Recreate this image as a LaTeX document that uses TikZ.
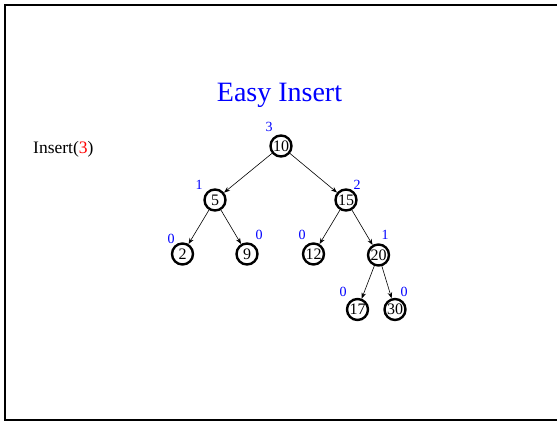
\documentclass[tikz,border=0pt]{standalone}
\usepackage{fontspec}
\setmainfont{Liberation Serif}
\usetikzlibrary{arrows.meta}
\begin{document}
\begin{tikzpicture}[x=1pt,y=-1pt,
  tn/.style={circle,draw=black,line width=2.4pt,minimum size=21pt,inner sep=0pt,font=\fontsize{16}{16}\selectfont},
  bal/.style={text=blue,font=\fontsize{14}{14}\selectfont,inner sep=0pt},
  edge/.style={line width=0.6pt,-{Stealth[length=6pt,width=4.5pt]}}]
\useasboundingbox (0,0) rectangle (557,422);
\draw[line width=2.5pt] (557,5) -| (5,420) -- (557,420);
\node[text=blue,font=\fontsize{28}{28}\selectfont] (title) at (279.5,95) {Easy Insert};
\node[anchor=west,font=\fontsize{17.5}{17.5}\selectfont,inner sep=0pt] (ins) at (33,149) {Insert(\textcolor{red}{3})};
\node[tn] (n10) at (281,146) {10};
\node[tn] (n5) at (215,200) {5};
\node[tn] (n15) at (346,200) {15};
\node[tn] (n2) at (182.5,254) {2};
\node[tn] (n9) at (247,254) {9};
\node[tn] (n12) at (313.5,254) {12};
\node[tn] (n20) at (378.5,255) {20};
\node[tn] (n17) at (357.5,309.5) {17};
\node[tn] (n30) at (395,309.5) {30};
\draw[edge] (n10) -- (n5);
\draw[edge] (n10) -- (n15);
\draw[edge] (n5) -- (n2);
\draw[edge] (n5) -- (n9);
\draw[edge] (n15) -- (n12);
\draw[edge] (n15) -- (n20);
\draw[edge] (n20) -- (n17);
\draw[edge] (n20) -- (n30);
\node[bal] (b10) at (269,127) {3};
\node[bal] (b5) at (199,185) {1};
\node[bal] (b15) at (357,185) {2};
\node[bal] (b2) at (171,239) {0};
\node[bal] (b9) at (259,235) {0};
\node[bal] (b12) at (302,235) {0};
\node[bal] (b20) at (385,235) {1};
\node[bal] (b17) at (343,292) {0};
\node[bal] (b30) at (404,292) {0};
\end{tikzpicture}
\end{document}
